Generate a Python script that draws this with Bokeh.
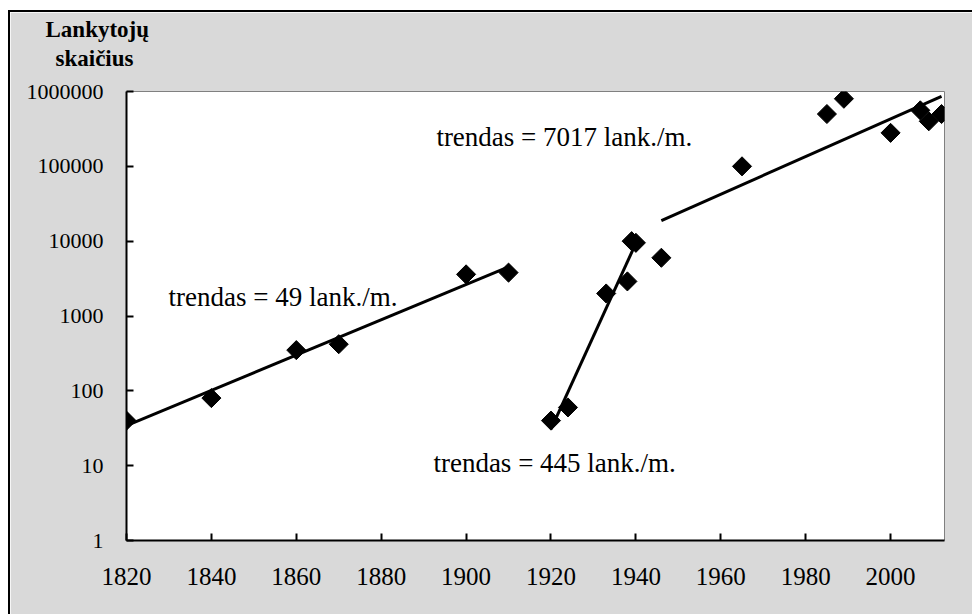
import numpy as np
from bokeh.plotting import figure
from bokeh.models import FixedTicker, NumeralTickFormatter, Label, ColumnDataSource, Title
from bokeh.embed import file_html
from bokeh.resources import INLINE

# ---- data ----
years = [1820, 1840, 1860, 1870, 1900, 1910,
         1920, 1924, 1933, 1938, 1939, 1940, 1946,
         1965, 1985, 1989, 2000, 2007, 2009, 2012]
visitors = [40, 80, 350, 420, 3600, 3800,
            40, 60, 2000, 2900, 10000, 9500, 6000,
            100000, 500000, 800000, 280000, 560000, 400000, 500000]
# trend groups: (first index, last index) into the arrays above
trend_groups = [(0, 5), (6, 11), (12, 19)]
trend_labels = ["trendas = 49 lank./m.", "trendas = 445 lank./m.", "trendas = 7017 lank./m."]
x_ticks = [1820, 1840, 1860, 1880, 1900, 1920, 1940, 1960, 1980, 2000]
y_ticks = [1, 10, 100, 1000, 10000, 100000, 1000000]
y_title = ["Lankytojų", "skaičius"]

FONT = "Liberation Serif"
GRAY = "#D9D9D9"

p = figure(width=964, height=604, output_backend="svg", toolbar_location=None,
           y_axis_type="log", x_range=(1820, 2012.7), y_range=(1, 1000000),
           min_border_left=116, min_border_right=30, min_border_top=79, min_border_bottom=76)
p.styles = {"border-left": "2px solid black", "border-top": "2px solid black",
            "margin-top": "10px", "margin-left": "8px"}
p.background_fill_color = "white"
p.border_fill_color = GRAY
p.outline_line_color = "#808080"
p.outline_line_width = 1
p.xgrid.visible = False
p.ygrid.visible = False

for ax in (p.xaxis[0], p.yaxis[0]):
    ax.axis_line_color = "black"
    ax.axis_line_width = 2
    ax.major_tick_line_color = "black"
    ax.major_tick_line_width = 2
    ax.major_tick_in = 7
    ax.major_tick_out = 0
    ax.minor_tick_line_color = None
    ax.major_label_text_font = FONT
    ax.major_label_text_color = "black"

p.xaxis.ticker = FixedTicker(ticks=x_ticks)
p.xaxis.major_label_text_font_size = "25px"
p.xaxis.major_label_standoff = 27
p.yaxis.ticker = FixedTicker(ticks=y_ticks)
p.yaxis.formatter = NumeralTickFormatter(format="0")
p.yaxis.major_label_text_font_size = "22px"
p.yaxis.major_label_standoff = 23

# trend lines (exponential fits per group)
yrs = np.array(years, dtype=float)
vals = np.array(visitors, dtype=float)
for a, b in trend_groups:
    xs = yrs[a:b + 1]
    k, c = np.polyfit(xs, np.log10(vals[a:b + 1]), 1)
    xl = np.array([xs[0], xs[-1]])
    p.line(xl, 10 ** (k * xl + c), line_color="black", line_width=3)

src = ColumnDataSource(dict(x=years, y=visitors))
p.scatter("x", "y", source=src, marker="square", size=13.5, angle=np.pi / 4,
          fill_color="black", line_color="black")

# trend annotations
label_pos = [(1829.9, 1774), (1892.3, 10.7), (1893.0, 244000)]
for (lx, ly), t in zip(label_pos, trend_labels):
    p.add_layout(Label(x=lx, y=ly, text=t, text_font=FONT, text_font_size="27px",
                       text_color="black", text_baseline="alphabetic", text_align="left"))

# spacer between the axis title and the frame
p.add_layout(Title(text=" ", text_font_size="1px", standoff=18), "above")
# axis title (two lines, bold, above the y axis) — nearest to the frame first
for t, off, so in zip(reversed(y_title), [-71, -81], [0, 4]):
    p.add_layout(Title(text=t, align="left", offset=off, text_font=FONT,
                       text_font_size="23px", text_font_style="bold",
                       text_color="black", standoff=so), "above")

open("out.html", "w").write(file_html(p, INLINE))
